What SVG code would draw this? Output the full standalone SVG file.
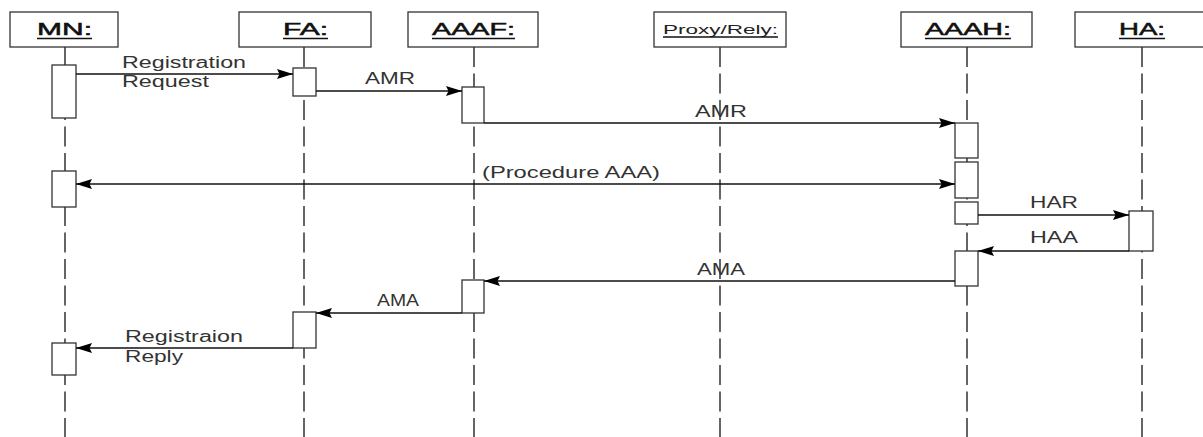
<svg xmlns="http://www.w3.org/2000/svg" width="1203" height="437" viewBox="0 0 1203 437">
<defs>
<style>
.head{fill:#fff;stroke:#333;stroke-width:1.3}
.ht{font-family:"Liberation Sans",Arial,sans-serif;font-size:17px;fill:#111;stroke:#111;stroke-width:0.5}
.hts{font-family:"Liberation Sans",Arial,sans-serif;font-size:13px;fill:#222}
.ul{stroke:#111;stroke-width:1.4}
.life{stroke:#333;stroke-width:1.5;stroke-dasharray:20 6.5;fill:none}
.act{fill:#fff;stroke:#333;stroke-width:1.3}
.msg{stroke:#111;stroke-width:1.3;fill:none}
.lbl{font-family:"Liberation Sans",Arial,sans-serif;font-size:16px;fill:#333}
</style>
<marker id="ah" markerUnits="userSpaceOnUse" markerWidth="17" markerHeight="12" refX="16" refY="6" orient="auto-start-reverse">
<path d="M0,1 L16,6 L0,11 L2.5,6 Z" fill="#000"/>
</marker>
</defs>
<rect width="1203" height="437" fill="#fff"/>

<g id="lifelines">
<line class="life" x1="65" y1="47" x2="65" y2="437"/>
<line class="life" x1="304" y1="47" x2="304" y2="437"/>
<line class="life" x1="474" y1="47" x2="474" y2="437"/>
<line class="life" x1="720" y1="47" x2="720" y2="437"/>
<line class="life" x1="967" y1="47" x2="967" y2="437"/>
<line class="life" x1="1142" y1="47" x2="1142" y2="437"/>
</g>

<g id="MN">
<rect class="head" x="10" y="12" width="108" height="35"/>
<text class="ht" x="37" y="35" textLength="55" lengthAdjust="spacingAndGlyphs">MN:</text>
<line class="ul" x1="37" y1="38.5" x2="92" y2="38.5"/>
<rect class="act" x="52" y="65" width="24" height="53"/>
<rect class="act" x="52" y="171" width="24" height="36"/>
<rect class="act" x="52" y="343" width="24" height="32"/>
</g>

<g id="FA">
<rect class="head" x="239" y="12" width="132" height="35"/>
<text class="ht" x="283" y="35" textLength="45" lengthAdjust="spacingAndGlyphs">FA:</text>
<line class="ul" x1="283" y1="38.5" x2="328" y2="38.5"/>
<rect class="act" x="293" y="68" width="23" height="28"/>
<rect class="act" x="293" y="312" width="23" height="36"/>
</g>

<g id="AAAF">
<rect class="head" x="408" y="12" width="130" height="35"/>
<text class="ht" x="432" y="35" textLength="83" lengthAdjust="spacingAndGlyphs">AAAF:</text>
<line class="ul" x1="432" y1="38.5" x2="515" y2="38.5"/>
<rect class="act" x="462" y="87" width="22" height="36"/>
<rect class="act" x="462" y="280" width="22" height="33"/>
</g>

<g id="ProxyRely">
<rect class="head" x="654" y="12" width="132" height="35"/>
<text class="hts" x="663" y="34" textLength="115" lengthAdjust="spacingAndGlyphs">Proxy/Rely:</text>
<line class="ul" x1="663" y1="37" x2="778" y2="37"/>
</g>

<g id="AAAH">
<rect class="head" x="901" y="12" width="131" height="35"/>
<text class="ht" x="925" y="35" textLength="86" lengthAdjust="spacingAndGlyphs">AAAH:</text>
<line class="ul" x1="925" y1="38.5" x2="1011" y2="38.5"/>
<rect class="act" x="955" y="123" width="23" height="35"/>
<rect class="act" x="955" y="162" width="23" height="36"/>
<rect class="act" x="955" y="202" width="23" height="22"/>
<rect class="act" x="955" y="251" width="23" height="35"/>
</g>

<g id="HA">
<rect class="head" x="1075" y="12" width="134" height="35"/>
<text class="ht" x="1119" y="35" textLength="46" lengthAdjust="spacingAndGlyphs">HA:</text>
<line class="ul" x1="1119" y1="38.5" x2="1165" y2="38.5"/>
<rect class="act" x="1129" y="211" width="24" height="40"/>
</g>

<g id="connectors">
<line class="msg" x1="76" y1="74" x2="293" y2="74" marker-end="url(#ah)"/>
<line class="msg" x1="316" y1="91" x2="462" y2="91" marker-end="url(#ah)"/>
<line class="msg" x1="484" y1="123" x2="955" y2="123" marker-end="url(#ah)"/>
<line class="msg" x1="76" y1="184" x2="955" y2="184" marker-start="url(#ah)" marker-end="url(#ah)"/>
<line class="msg" x1="978" y1="215" x2="1129" y2="215" marker-end="url(#ah)"/>
<line class="msg" x1="1129" y1="251" x2="978" y2="251" marker-end="url(#ah)"/>
<line class="msg" x1="955" y1="281" x2="484" y2="281" marker-end="url(#ah)"/>
<line class="msg" x1="462" y1="313" x2="316" y2="313" marker-end="url(#ah)"/>
<line class="msg" x1="293" y1="348" x2="76" y2="348" marker-end="url(#ah)"/>
</g>

<g id="labels">
<text class="lbl" x="122" y="68" textLength="124" lengthAdjust="spacingAndGlyphs">Registration</text>
<text class="lbl" x="122" y="87" textLength="87" lengthAdjust="spacingAndGlyphs">Request</text>
<text class="lbl" x="365" y="84" textLength="50" lengthAdjust="spacingAndGlyphs">AMR</text>
<text class="lbl" x="695" y="117" textLength="52" lengthAdjust="spacingAndGlyphs">AMR</text>
<text class="lbl" x="482" y="178" textLength="178" lengthAdjust="spacingAndGlyphs">(Procedure AAA)</text>
<text class="lbl" x="1030" y="208" textLength="48" lengthAdjust="spacingAndGlyphs">HAR</text>
<text class="lbl" x="1030" y="243" textLength="48" lengthAdjust="spacingAndGlyphs">HAA</text>
<text class="lbl" x="697" y="275" textLength="48" lengthAdjust="spacingAndGlyphs">AMA</text>
<text class="lbl" x="377" y="306" textLength="42" lengthAdjust="spacingAndGlyphs">AMA</text>
<text class="lbl" x="125" y="342" textLength="118" lengthAdjust="spacingAndGlyphs">Registraion</text>
<text class="lbl" x="125" y="362" textLength="58" lengthAdjust="spacingAndGlyphs">Reply</text>
</g>
</svg>
